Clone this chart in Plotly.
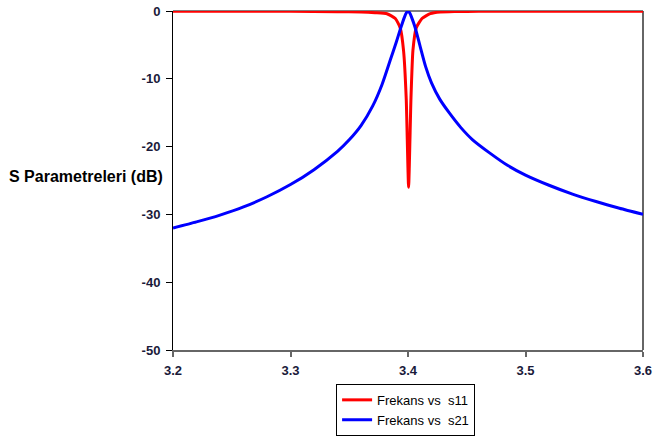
import plotly.graph_objects as go

# S21 (blue)
f_s21 = [3.200, 3.220, 3.240, 3.260, 3.280, 3.300, 3.320, 3.340, 3.350, 3.360, 3.370,
         3.378, 3.385, 3.390, 3.394, 3.397, 3.3985, 3.400, 3.4015, 3.403, 3.406, 3.410,
         3.415, 3.420, 3.427, 3.435, 3.445, 3.455, 3.470, 3.485, 3.500, 3.520, 3.540,
         3.560, 3.580, 3.600]
s21 = [-32.0, -31.1, -30.1, -28.9, -27.4, -25.6, -23.4, -20.7, -19.0, -16.9, -14.0,
       -10.8, -7.2, -4.6, -2.4, -0.9, -0.3, 0.0, -0.3, -0.9, -2.4, -5.0,
       -8.2, -10.6, -13.0, -15.0, -17.2, -19.0, -21.0, -22.8, -24.2, -25.7, -27.0,
       -28.1, -29.1, -30.0]

# S11 (red)
f_s11 = [3.200, 3.250, 3.300, 3.340, 3.360, 3.372, 3.3821, 3.3892, 3.3934, 3.3962, 3.3985,
         3.4005, 3.4025, 3.4042, 3.4070, 3.4119, 3.4189, 3.4274, 3.440, 3.460, 3.500, 3.550, 3.600]
s11 = [-0.02, -0.03, -0.05, -0.1, -0.15, -0.25, -0.4, -1.1, -2.5, -5.8, -13.0,
       -26.0, -13.0, -5.8, -2.5, -1.1, -0.4, -0.15, -0.08, -0.05, -0.03, -0.02, -0.02]

x_ticks = [3.2, 3.3, 3.4, 3.5, 3.6]
y_ticks = [0, -10, -20, -30, -40, -50]

font_family = "Liberation Sans, Arial, sans-serif"
tick_font = dict(size=13, family=font_family, weight="bold", color="#1a1a3a")

fig = go.Figure()
fig.add_trace(go.Scatter(x=f_s11, y=s11, mode="lines", name="Frekans vs\u00a0 s11",
                         line=dict(color="#ff0000", width=3, shape="spline", smoothing=0.5),
                         cliponaxis=False))
fig.add_trace(go.Scatter(x=f_s21, y=s21, mode="lines", name="Frekans vs\u00a0 s21",
                         line=dict(color="#0000ff", width=3, shape="spline", smoothing=0.6),
                         cliponaxis=False))

fig.update_layout(
    width=654, height=439,
    margin=dict(l=173, r=11, t=11, b=89, autoexpand=False),
    paper_bgcolor="white", plot_bgcolor="white",
    font=dict(family=font_family, size=12, color="#1a1a2e"),
    showlegend=True,
    legend=dict(x=0.347, xanchor="left", y=-0.1, yanchor="top",
                bordercolor="#000000", borderwidth=1, bgcolor="white",
                font=dict(size=13, color="#000000", family=font_family),
                itemwidth=30, tracegroupgap=0),
    xaxis=dict(range=[3.2, 3.6], tickvals=x_ticks, ticktext=[f"{v:.1f}" for v in x_ticks],
               automargin=False,
               showgrid=False, zeroline=False, showline=True, linecolor="#666666", linewidth=2,
               ticks="outside", ticklen=5, tickcolor="#666666", tickwidth=2,
               ticklabelstandoff=2, tickfont=tick_font),
    yaxis=dict(range=[-50, 0], tickvals=y_ticks, ticktext=[str(v) for v in y_ticks],
               automargin=False,
               showgrid=False, zeroline=False, showline=True, linecolor="#000000", linewidth=1,
               ticks="outside", ticklen=6, tickcolor="#000000", tickwidth=1,
               ticklabelstandoff=3, tickfont=tick_font),
    shapes=[
        dict(type="line", xref="paper", yref="paper", x0=0, x1=1, y0=1, y1=1,
             line=dict(color="#000000", width=1), layer="below"),
        dict(type="line", xref="paper", yref="paper", x0=1, x1=1, y0=0, y1=1,
             line=dict(color="#666666", width=2), layer="below"),
    ],
    annotations=[
        dict(text="<b>S Parametreleri (dB)</b>", xref="paper", yref="paper",
             x=-0.017, y=0.513, xanchor="right", yanchor="middle", showarrow=False,
             font=dict(size=16, family=font_family, color="#000000")),
    ],
)

fig.write_html("out.html", config={"displayModeBar": False},
               post_script="document.body.style.margin='0';document.body.style.overflow='hidden';")
